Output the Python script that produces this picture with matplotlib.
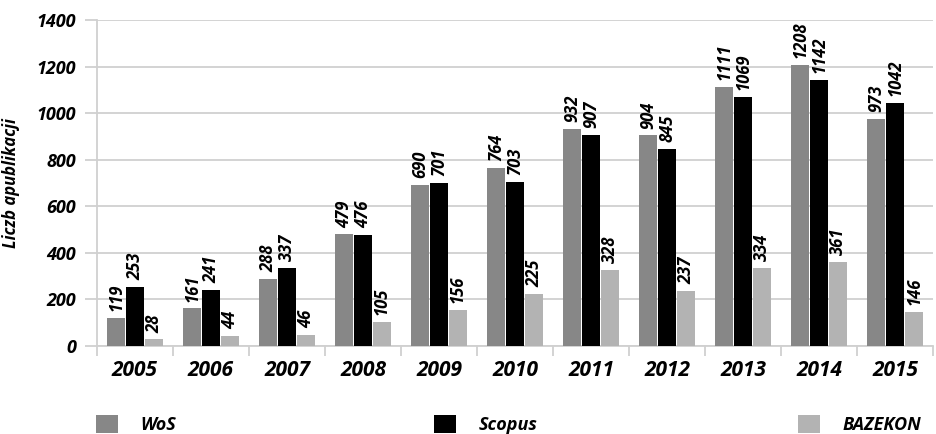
import matplotlib
matplotlib.use('Agg')
import matplotlib.pyplot as plt
from matplotlib.patches import Patch
import numpy as np

plt.rcParams['font.family'] = ['Open Sans', 'DejaVu Sans']

years = ['2005', '2006', '2007', '2008', '2009', '2010', '2011', '2012', '2013', '2014', '2015']
wos = [119, 161, 288, 479, 690, 764, 932, 904, 1111, 1208, 973]
scopus = [253, 241, 337, 476, 701, 703, 907, 845, 1069, 1142, 1042]
bazekon = [28, 44, 46, 105, 156, 225, 328, 237, 334, 361, 146]

series = [('WoS', wos, '#878787'), ('Scopus', scopus, '#000000'), ('BAZEKON', bazekon, '#b3b3b3')]

GRID = '#d0d0d0'

fig = plt.figure(figsize=(9.36, 4.34), dpi=100)
ax = fig.add_axes([0.1036, 0.2028, 0.8934, 0.7511])

x = np.arange(len(years))
step = 0.249
width = 0.236
for i, (name, vals, col) in enumerate(series):
    xs = x + (i - 1) * step
    ax.bar(xs, vals, width=width, color=col, zorder=3)
    for xi, v in zip(xs, vals):
        ax.annotate(str(v), (xi, v), xytext=(0, 5), textcoords='offset points',
                    rotation=90, ha='center', va='bottom', fontsize=12,
                    fontweight='bold', fontstyle='italic', zorder=4)

ax.set_xlim(-0.5, len(years) - 0.5)
ax.set_ylim(0, 1400)
ax.set_yticks(range(0, 1401, 200))
ax.yaxis.grid(True, color=GRID, linewidth=1.3, zorder=0)
ax.set_axisbelow(True)

ax.set_xticks(x)
ax.set_xticklabels(years, fontsize=15, fontweight='bold', fontstyle='italic')
ax.set_xticks(np.arange(-0.5, len(years), 1), minor=True)
ax.tick_params(axis='x', which='major', length=0, pad=10)
ax.tick_params(axis='x', which='minor', length=7, color=GRID, width=1.3)
ax.tick_params(axis='y', length=9, color=GRID, width=1.3, labelsize=13, pad=6)
for lab in ax.get_yticklabels():
    lab.set_fontweight('bold')
    lab.set_fontstyle('italic')

for s in ['top', 'right']:
    ax.spines[s].set_visible(False)
for s in ['left', 'bottom']:
    ax.spines[s].set_color(GRID)
    ax.spines[s].set_linewidth(1.3)

ax.set_ylabel('Liczb apublikacji', fontsize=12, fontweight='bold', fontstyle='italic', labelpad=12)

legend_x = [96 / 936, 434 / 936, 798 / 936]
for (name, vals, col), lx in zip(series, legend_x):
    fig.legend(handles=[Patch(facecolor=col, edgecolor='none')], labels=[name],
               loc='center left', bbox_to_anchor=(lx, 0.022), frameon=False,
               borderpad=0, borderaxespad=0, handlelength=1.2, handleheight=1.2,
               handletextpad=1.25,
               prop={'size': 13, 'weight': 'bold', 'style': 'italic'})

fig.savefig('out.png', dpi=100)
